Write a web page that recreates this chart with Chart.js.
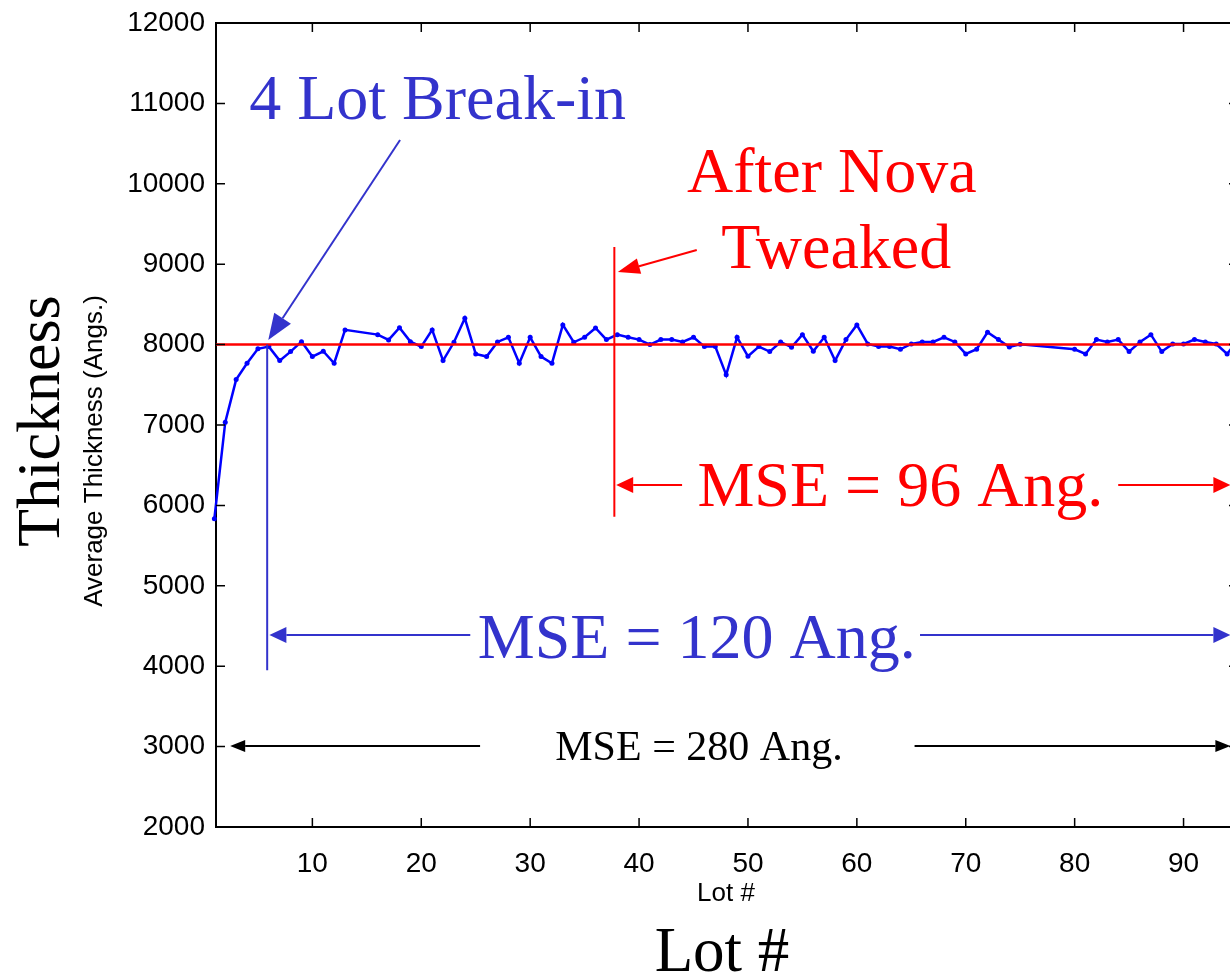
<!DOCTYPE html>
<html>
<head>
<meta charset="utf-8">
<title>Average Thickness by Lot</title>
<script src="https://cdn.jsdelivr.net/npm/chart.js@4.4.0/dist/chart.umd.min.js"></script>
<style>
  html, body { margin: 0; padding: 0; background: #fff; overflow: hidden; }
  canvas { display: block; }
</style>
</head>
<body>
<canvas id="chart" width="1245" height="977"></canvas>
<script>
// ---- DATA ----
const lots = [
  1, 2, 3, 4, 5, 6, 7, 8, 9, 10, 11, 12, 13,
  16, 17, 18, 19, 20, 21, 22, 23, 24, 25, 26, 27, 28, 29, 30,
  31, 32, 33, 34, 35, 36, 37, 38, 39, 40, 41, 42, 43, 44, 45,
  46, 47, 48, 49, 50, 51, 52, 53, 54, 55, 56, 57, 58, 59, 60,
  61, 62, 63, 64, 65, 66, 67, 68, 69, 70, 71, 72, 73, 74, 75,
  80, 81, 82, 83, 84, 85, 86, 87, 88, 89, 90, 91, 92, 93, 94, 95
];
const thickness = [
  5835, 7035, 7565, 7768, 7947, 7975, 7801, 7913, 8037, 7851, 7917, 7768, 8183,
  8124, 8058, 8211, 8037, 7975, 8183, 7801, 8029, 8327, 7884, 7851, 8033, 8091, 7768, 8091,
  7851, 7768, 8245, 8029, 8091, 8207, 8062, 8124, 8091, 8062, 8000, 8062, 8062, 8033, 8091,
  7975, 7975, 7624, 8091, 7855, 7975, 7913, 8033, 7967, 8124, 7917, 8091, 7801, 8062, 8245,
  8008, 7975, 7975, 7942, 8008, 8033, 8033, 8091, 8033, 7884, 7942, 8153, 8062, 7971, 8004,
  7942, 7884, 8062, 8033, 8062, 7913, 8033, 8124, 7913, 8008, 8008, 8062, 8033, 8008, 7884, 8060
];
const targetThickness = 8000;
const xMin = 1.15, xMax = 95;
const yMin = 2000, yMax = 12000;
const yTickStep = 1000, xTickStep = 10;

// ---- COLOURS / FONTS ----
const NOTE_BLUE = "#3333cc";
const NOTE_RED = "#ff0000";
const SERIF = '"Liberation Serif", "Times New Roman", serif';
const SANS = '"Liberation Sans", Arial, sans-serif';

// ---- HELPERS ----
function arrow(ctx, x1, y1, x2, y2, color, lw, hl, hw) {
  const a = Math.atan2(y2 - y1, x2 - x1);
  const bx = x2 - hl * Math.cos(a), by = y2 - hl * Math.sin(a);
  ctx.strokeStyle = color;
  ctx.lineWidth = lw;
  ctx.beginPath(); ctx.moveTo(x1, y1); ctx.lineTo(bx, by); ctx.stroke();
  ctx.fillStyle = color;
  ctx.beginPath();
  ctx.moveTo(x2, y2);
  ctx.lineTo(bx + hw * Math.sin(a), by - hw * Math.cos(a));
  ctx.lineTo(bx - hw * Math.sin(a), by + hw * Math.cos(a));
  ctx.closePath();
  ctx.fill();
}

function text(ctx, str, x, y, font, color, align, baseline) {
  ctx.font = font;
  ctx.fillStyle = color;
  ctx.textAlign = align || "center";
  ctx.textBaseline = baseline || "alphabetic";
  ctx.fillText(str, x, y);
}

// ---- FRAME, INWARD TICKS, TITLES, NOTES ----
const notesPlugin = {
  id: "notes",
  afterDraw(chart) {
    const ctx = chart.ctx;
    const xs = chart.scales.x, ys = chart.scales.y;
    const X = v => xs.getPixelForValue(v);
    const Y = v => ys.getPixelForValue(v);
    const { left, right, top, bottom } = chart.chartArea;
    ctx.save();

    // top + right borders
    ctx.strokeStyle = "#000";
    ctx.lineWidth = 2;
    ctx.beginPath();
    ctx.moveTo(left - 1, top); ctx.lineTo(right, top); ctx.lineTo(right, bottom);
    ctx.stroke();

    // inward tick marks on all four sides
    ctx.lineWidth = 1.5;
    ctx.beginPath();
    xs.ticks.forEach(t => {
      const px = X(t.value);
      ctx.moveTo(px, bottom); ctx.lineTo(px, bottom - 9);
      ctx.moveTo(px, top); ctx.lineTo(px, top + 9);
    });
    ys.ticks.forEach(t => {
      const py = Y(t.value);
      ctx.moveTo(left, py); ctx.lineTo(left + 9, py);
      ctx.moveTo(right, py); ctx.lineTo(right - 9, py);
    });
    ctx.stroke();

    // axis titles
    ctx.save();
    ctx.translate(43, 421);
    ctx.rotate(-Math.PI / 2);
    text(ctx, "Thickness", 0, 0, "62px " + SERIF, "#000", "center", "middle");
    ctx.restore();
    ctx.save();
    ctx.translate(95, 451);
    ctx.rotate(-Math.PI / 2);
    text(ctx, "Average Thickness (Angs.)", 0, 0, "26px " + SANS, "#000", "center", "middle");
    ctx.restore();
    text(ctx, "Lot #", 726, 894, "26px " + SANS, "#000", "center", "middle");
    text(ctx, "Lot #", 722, 971, "63px " + SERIF, "#000", "center", "alphabetic");

    // "4 Lot Break-in" note
    ctx.lineWidth = 2;
    ctx.strokeStyle = NOTE_BLUE;
    ctx.beginPath(); ctx.moveTo(X(5.85), Y(8000)); ctx.lineTo(X(5.85), Y(3950)); ctx.stroke();
    arrow(ctx, X(18.05), Y(10545), X(5.95), Y(8057), NOTE_BLUE, 2, 26, 10);
    text(ctx, "4 Lot Break-in", X(21.5), Y(10806), "64px " + SERIF, NOTE_BLUE);

    // "After Nova Tweaked" note
    ctx.strokeStyle = NOTE_RED;
    ctx.beginPath(); ctx.moveTo(X(37.73), Y(9215)); ctx.lineTo(X(37.73), Y(5858)); ctx.stroke();
    arrow(ctx, X(45.3), Y(9176), X(38.05), Y(8902), NOTE_RED, 2, 22, 8);
    text(ctx, "After Nova", X(57.7), Y(9898), "64px " + SERIF, NOTE_RED);
    text(ctx, "Tweaked", X(58.1), Y(8952), "64px " + SERIF, NOTE_RED);

    // MSE spans
    const spans = [
      { label: "MSE = 96 Ang.", color: NOTE_RED, y: 6253, base: 5990, from: 37.9, gapL: 43.95, gapR: 84.0, mid: 64.0, font: "64px " + SERIF, hl: 17, hw: 8 },
      { label: "MSE = 120 Ang.", color: NOTE_BLUE, y: 4387, base: 4100, from: 6.05, gapL: 24.5, gapR: 65.8, mid: 45.3, font: "64px " + SERIF, hl: 17, hw: 8 },
      { label: "MSE = 280 Ang.", color: "#000", y: 3006, base: 2830, from: 2.45, gapL: 25.4, gapR: 65.3, mid: 45.5, font: "42px " + SERIF, hl: 15, hw: 6 }
    ];
    const tip = 94.3;
    spans.forEach(s => {
      arrow(ctx, X(s.gapL), Y(s.y), X(s.from), Y(s.y), s.color, 2, s.hl, s.hw);
      arrow(ctx, X(s.gapR), Y(s.y), X(tip), Y(s.y), s.color, 2, s.hl, s.hw);
      text(ctx, s.label, X(s.mid), Y(s.base), s.font, s.color);
    });

    ctx.restore();
  }
};

// ---- CHART ----
const ctx = document.getElementById("chart").getContext("2d");
new Chart(ctx, {
  type: "line",
  data: {
    datasets: [
      {
        label: "Target",
        data: [{ x: xMin, y: targetThickness }, { x: xMax, y: targetThickness }],
        borderColor: NOTE_RED,
        borderWidth: 2.5,
        pointRadius: 0,
        fill: false
      },
      {
        label: "Average Thickness",
        data: lots.map((l, i) => ({ x: l, y: thickness[i] })),
        borderColor: "#0000ff",
        backgroundColor: "#0000ff",
        borderWidth: 2.5,
        pointRadius: 2.5,
        pointBorderWidth: 0,
        tension: 0,
        fill: false,
        clip: false
      }
    ]
  },
  options: {
    responsive: false,
    animation: false,
    layout: { padding: { top: 23, right: 7, left: 0, bottom: 0 } },
    plugins: { legend: { display: false }, tooltip: { enabled: false } },
    scales: {
      x: {
        type: "linear",
        min: xMin,
        max: xMax,
        grid: { display: false, drawTicks: false },
        border: { display: true, color: "#000", width: 2 },
        ticks: {
          stepSize: xTickStep,
          includeBounds: false,
          padding: 20,
          color: "#000",
          font: { family: "Liberation Sans", size: 28 },
          callback: v => String(v)
        },
        afterFit(scale) {
          scale.height = 150;
          scale.paddingLeft = 0;
          scale.paddingRight = 0;
        }
      },
      y: {
        type: "linear",
        min: yMin,
        max: yMax,
        grid: { display: false, drawTicks: false },
        border: { display: true, color: "#000", width: 2 },
        ticks: {
          stepSize: yTickStep,
          padding: 11,
          color: "#000",
          font: { family: "Liberation Sans", size: 28 },
          callback: v => String(v)
        },
        afterFit(scale) {
          scale.width = 216;
          scale.paddingTop = 0;
          scale.paddingBottom = 0;
        }
      }
    }
  },
  plugins: [notesPlugin]
});
</script>
</body>
</html>
